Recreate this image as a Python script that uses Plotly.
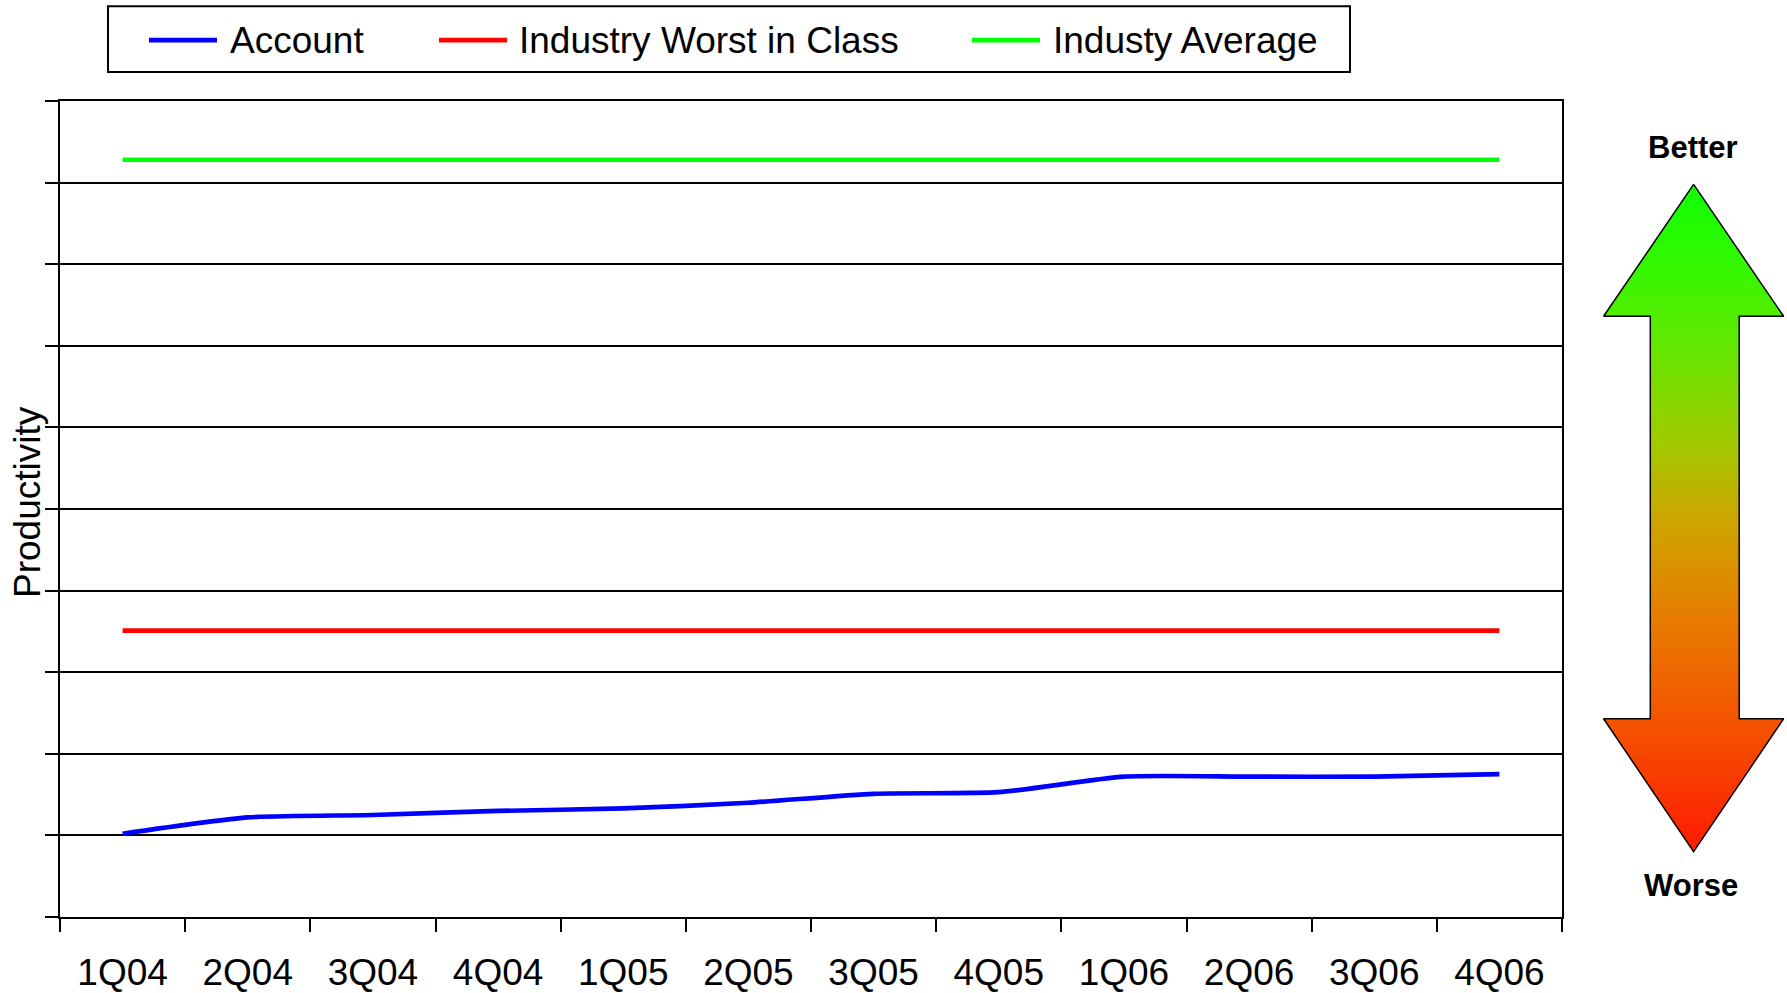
import plotly.graph_objects as go

# ---- data -------------------------------------------------------------
quarters = ["1Q04", "2Q04", "3Q04", "4Q04", "1Q05", "2Q05",
            "3Q05", "4Q05", "1Q06", "2Q06", "3Q06", "4Q06"]
account = [1.02, 1.22, 1.25, 1.30, 1.33, 1.40,
           1.51, 1.53, 1.72, 1.72, 1.72, 1.75]
worst_in_class = [3.51, 3.51, 3.51, 3.51, 3.51, 3.51,
                  3.51, 3.51, 3.51, 3.51, 3.51, 3.51]
industry_average = [9.28, 9.28, 9.28, 9.28, 9.28, 9.28,
                    9.28, 9.28, 9.28, 9.28, 9.28, 9.28]

series_names = ["Account", "Industry Worst in Class", "Industy Average"]
series_colors = ["#0000FF", "#FF0000", "#00FF00"]

# ---- page geometry (pixels) -------------------------------------------
W, H = 1787, 993
M_L, M_R, M_T, M_B = 60, 0, 101, 74
PLOT_W = W - M_L - M_R
PLOT_H = H - M_T - M_B
PLOT_RIGHT_PX = 1562


def px_x(p):
    return (p - M_L) / PLOT_W


def px_y(p):
    return (H - M_B - p) / PLOT_H


FONT = "Liberation Sans, Arial, sans-serif"

fig = go.Figure()

for name, vals, col in zip(series_names,
                           [account, worst_in_class, industry_average],
                           series_colors):
    fig.add_trace(go.Scatter(
        x=quarters, y=vals, name=name, mode="lines",
        line=dict(color=col, width=4.7, shape="spline", smoothing=0.6),
        showlegend=False, xaxis="x", yaxis="y",
    ))

# ---- "Better / Worse" double arrow with a vertical colour gradient ----
arrow_x = [1693.6, 1783.6, 1739.2, 1739.2, 1783.6, 1693.6,
           1603.6, 1650.3, 1650.3, 1603.6, 1693.6]
arrow_y = [734.4, 602.2, 602.2, 198.7, 198.7, 65.4,
           198.7, 198.7, 602.2, 602.2, 734.4]
fig.add_trace(go.Scatter(
    x=arrow_x, y=arrow_y, mode="lines", fill="toself",
    line=dict(color="black", width=1.5),
    fillgradient=dict(
        type="vertical",
        colorscale=[[0.0, "#ff1a00"], [0.18, "#f55000"], [0.35, "#e87c00"],
                    [0.5, "#cca600"], [0.62, "#a0cc00"], [0.75, "#66e600"],
                    [0.88, "#33f800"], [1.0, "#10ff00"]],
    ),
    showlegend=False, hoverinfo="skip", cliponaxis=False,
    xaxis="x2", yaxis="y2",
))

axis_line = dict(showline=True, linecolor="black", linewidth=2, mirror=True)

fig.update_layout(
    width=W, height=H,
    margin=dict(l=M_L, r=M_R, t=M_T, b=M_B),
    paper_bgcolor="white", plot_bgcolor="white",
    font=dict(family=FONT, color="black", size=37),
    showlegend=False,
    xaxis=dict(
        domain=[0, px_x(PLOT_RIGHT_PX)],
        type="category", range=[-0.5, 11.5],
        tickson="boundaries", ticks="outside", ticklen=13,
        tickwidth=2, tickcolor="black",
        tickfont=dict(size=37, family=FONT),
        ticklabelstandoff=22,
        showgrid=False, zeroline=False, **axis_line,
    ),
    yaxis=dict(
        range=[0, 10], dtick=1, tick0=0,
        ticks="outside", ticklen=13, tickwidth=2, tickcolor="black",
        showticklabels=False,
        showgrid=True, gridcolor="black", gridwidth=2,
        zeroline=False,
        **axis_line,
    ),
    xaxis2=dict(domain=[px_x(1600), 1], range=[1600, W], visible=False,
                anchor="y2", fixedrange=True),
    yaxis2=dict(domain=[0, 1], range=[0, PLOT_H], visible=False,
                anchor="x2", fixedrange=True),
)

# ---- y-axis caption --------------------------------------------------
fig.add_annotation(text="Productivity", xref="paper", yref="paper",
                   x=px_x(27), y=px_y(503), textangle=-90,
                   xanchor="center", yanchor="middle", showarrow=False,
                   font=dict(size=37, family=FONT))

# ---- legend drawn as a boxed key above the plot -----------------------
fig.add_shape(type="rect", xref="paper", yref="paper",
              x0=px_x(108), x1=px_x(1350), y0=px_y(72), y1=px_y(6),
              line=dict(color="black", width=2), fillcolor="white")

legend_line_px = [(149, 217), (439, 507), (972, 1040)]
legend_text_px = [229, 518, 1052]
LEG_Y = 40
for name, col, (a, b), tx in zip(series_names, series_colors,
                                 legend_line_px, legend_text_px):
    fig.add_shape(type="line", xref="paper", yref="paper",
                  x0=px_x(a), x1=px_x(b), y0=px_y(LEG_Y), y1=px_y(LEG_Y),
                  line=dict(color=col, width=4.7))
    fig.add_annotation(text=name, xref="paper", yref="paper",
                       x=px_x(tx), y=px_y(LEG_Y), xanchor="left",
                       yanchor="middle", showarrow=False,
                       font=dict(size=37, family=FONT), borderpad=0)

fig.add_annotation(text="<b>Better</b>", xref="paper", yref="paper",
                   x=px_x(1693), y=px_y(148), xanchor="center",
                   yanchor="middle", showarrow=False,
                   font=dict(size=31, family=FONT))
fig.add_annotation(text="<b>Worse</b>", xref="paper", yref="paper",
                   x=px_x(1691), y=px_y(887), xanchor="center",
                   yanchor="middle", showarrow=False,
                   font=dict(size=31, family=FONT))

fig.write_html("out.html")
